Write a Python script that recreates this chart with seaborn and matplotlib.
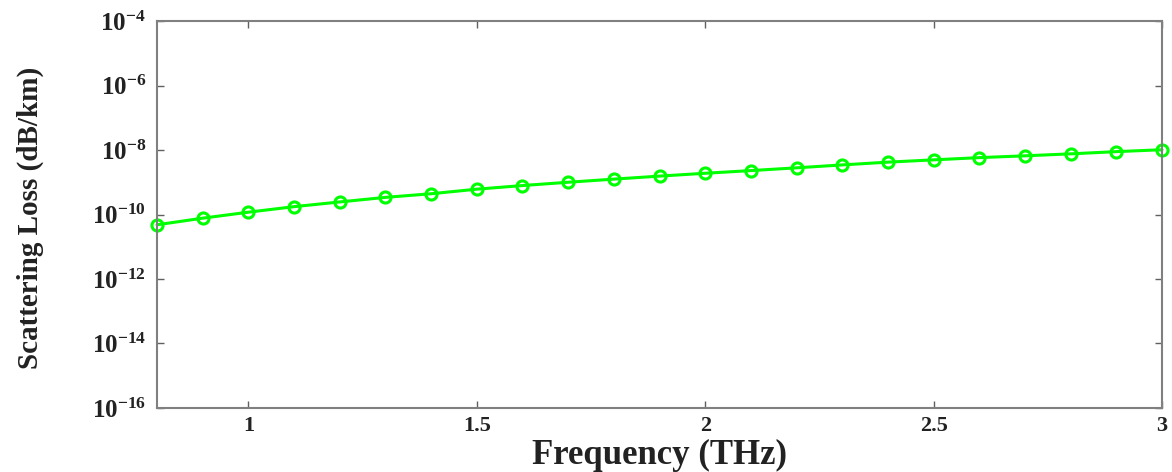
import numpy as np
import pandas as pd
import matplotlib
matplotlib.use("Agg")
import matplotlib.pyplot as plt
import seaborn as sns
from matplotlib.ticker import LogFormatterMathtext, FixedLocator, NullLocator

# Data
frequency_thz = [0.8, 0.9, 1.0, 1.1, 1.2, 1.3, 1.4, 1.5, 1.6, 1.7, 1.8, 1.9,
                 2.0, 2.1, 2.2, 2.3, 2.4, 2.5, 2.6, 2.7, 2.8, 2.9, 3.0]
scattering_loss = [4.8e-11, 7.7e-11, 1.18e-10, 1.75e-10, 2.45e-10, 3.4e-10,
                   4.4e-10, 6.1e-10, 7.9e-10, 1.0e-9, 1.25e-9, 1.55e-9,
                   1.9e-9, 2.3e-9, 2.8e-9, 3.45e-9, 4.2e-9, 4.95e-9, 5.8e-9,
                   6.6e-9, 7.6e-9, 8.9e-9, 1.02e-8]
x_ticks = [1, 1.5, 2, 2.5, 3]
x_tick_labels = ["1", "1.5", "2", "2.5", "3"]
y_ticks = [1e-16, 1e-14, 1e-12, 1e-10, 1e-8, 1e-6, 1e-4]

df = pd.DataFrame({"Frequency (THz)": frequency_thz,
                   "Scattering Loss (dB/km)": scattering_loss})

sns.set_theme(style="white")
plt.rcParams["font.family"] = ["Liberation Serif", "DejaVu Serif"]
plt.rcParams["font.weight"] = "bold"
plt.rcParams["mathtext.fontset"] = "custom"
plt.rcParams["mathtext.rm"] = "Liberation Serif:bold"
plt.rcParams["mathtext.it"] = "Liberation Serif:bold"
plt.rcParams["mathtext.bf"] = "Liberation Serif:bold"
plt.rcParams["mathtext.default"] = "bf"

fig = plt.figure(figsize=(11.72, 4.72), dpi=100)
ax = fig.add_axes([0.134, 0.1356, 0.8575, 0.8199])

sns.lineplot(data=df, x="Frequency (THz)", y="Scattering Loss (dB/km)", ax=ax,
             color="#00ff00", linewidth=2.2, marker="o", markersize=8,
             markerfacecolor="none", markeredgecolor="#00ff00",
             markeredgewidth=2.2, clip_on=False)

ax.set_yscale("log")
ax.set_xlim(0.8, 3.0)
ax.set_ylim(1e-16, 1e-4)
ax.yaxis.set_major_locator(FixedLocator(y_ticks))
ax.yaxis.set_minor_locator(NullLocator())
ax.yaxis.set_major_formatter(LogFormatterMathtext())
ax.set_xticks(x_ticks)
ax.set_xticklabels(x_tick_labels)

for sp in ax.spines.values():
    sp.set_visible(True)
    sp.set_color("#808080")
    sp.set_linewidth(1.5)

ax.tick_params(axis="both", which="major", direction="in", length=5, width=1,
               color="#606060", top=True, right=True, bottom=True, left=True,
               labelcolor="#222222")
ax.tick_params(axis="x", labelsize=16, pad=6)
ax.tick_params(axis="y", labelsize=18, pad=8)
for lab in ax.get_xticklabels() + ax.get_yticklabels():
    lab.set_fontweight("bold")

ax.set_xlabel("Frequency (THz)", fontsize=25, fontweight="bold",
              color="#222222", labelpad=0)
ax.set_ylabel("Scattering Loss (dB/km)", fontsize=21, fontweight="bold",
              color="#222222", labelpad=0)
ax.xaxis.set_label_coords(0.5, -0.08)
ax.yaxis.set_label_coords(-0.112, 0.49)

fig.savefig("out.png", dpi=100)
